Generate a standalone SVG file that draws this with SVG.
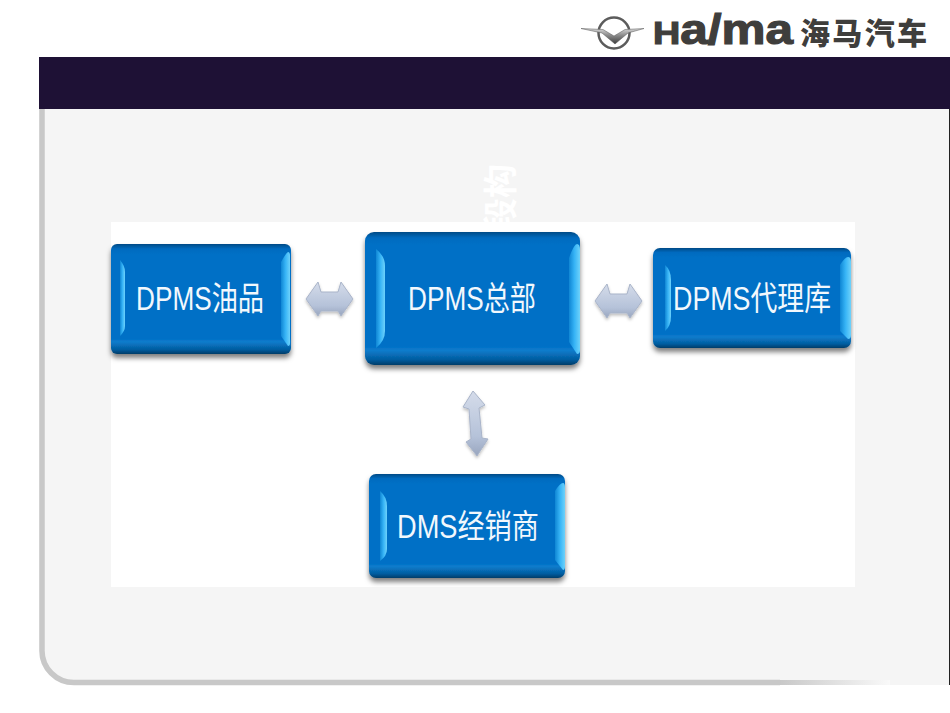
<svg xmlns="http://www.w3.org/2000/svg" width="950" height="713" viewBox="0 0 950 713">
<defs>
<style>
.t{font-family:"Liberation Sans","Noto Sans CJK SC",sans-serif;font-size:27px;fill:#f2f8fd;text-anchor:middle}
.e{fill:url(#eg)}
.l{fill:#4fb6f0}
.a{fill:url(#ag);stroke:#a9b4c9;stroke-width:1;stroke-linejoin:round;filter:url(#as)}
.n{stroke:#045290;stroke-width:1}
</style>
<linearGradient id="bg" x1="0" y1="0" x2="0" y2="1"><stop offset="0" stop-color="#044a86"/><stop offset=".045" stop-color="#056bbf"/><stop offset=".1" stop-color="#0470c6"/><stop offset=".86" stop-color="#0470c6"/><stop offset=".89" stop-color="#0a7ccc"/><stop offset=".96" stop-color="#045c9f"/><stop offset="1" stop-color="#043c68"/></linearGradient>
<linearGradient id="eg" x1="0" y1="0" x2="1" y2="0"><stop offset="0" stop-color="#0f86d4"/><stop offset=".5" stop-color="#37b4f6"/><stop offset="1" stop-color="#6ed2fb"/></linearGradient>
<linearGradient id="ag" x1="0" y1="0" x2="0" y2="1"><stop offset="0" stop-color="#d5dcea"/><stop offset=".7" stop-color="#b5c2d9"/><stop offset="1" stop-color="#98a5be"/></linearGradient>
<linearGradient id="lg" x1="0" y1="0" x2="0" y2="1"><stop offset="0" stop-color="#d8d8d8"/><stop offset=".45" stop-color="#8a8a8a"/><stop offset="1" stop-color="#3c3c3c"/></linearGradient>
<linearGradient id="fade" gradientUnits="userSpaceOnUse" x1="780" y1="0" x2="890" y2="0"><stop offset="0" stop-color="#c8c8c8"/><stop offset="1" stop-color="#f9f9f9"/></linearGradient>
<filter id="s" x="-10%" y="-10%" width="120%" height="125%"><feDropShadow dx="0" dy="4" stdDeviation="2.500" flood-color="#000" flood-opacity=".5"/></filter>
<filter id="as" x="-20%" y="-20%" width="140%" height="150%"><feDropShadow dx="0" dy="2" stdDeviation="1.500" flood-color="#000" flood-opacity=".25"/></filter>
</defs>
<rect width="950" height="713" fill="#fff"/>
<g id="frame">
<path d="M39 100V650A35 35 0 0 0 74 685H950V100Z" fill="#f5f5f5"/>
<path d="M42 100V650A32 32 0 0 1 42 650A32 32 0 0 0 74 682.500H780" fill="none" stroke="#c8c8c8" stroke-width="5.500"/>
<rect x="780" y="680" width="110" height="5" fill="url(#fade)"/>
<rect x="949" y="57" width="1" height="628" fill="#222"/>
<rect x="39" y="57" width="911" height="52" fill="#1e1135"/>
</g>
<g id="logo">
<circle cx="614" cy="33" r="15.500" fill="none" stroke="#5c5c5c" stroke-width="2.500"/>
<path d="M581 28.500L603 29.500L614 36L625 29.500L644 28.500L628 33L615 44L602 33Z" fill="url(#lg)" stroke="#555" stroke-width=".5"/>
<text x="653" y="44" font-family="'Liberation Sans',sans-serif" font-weight="700" font-size="32" fill="#3f3e3c" stroke="#3f3e3c" stroke-width="1.200" textLength="140" lengthAdjust="spacingAndGlyphs">H<tspan font-size="42">a/ma</tspan></text>
<text x="800" y="44" font-family="'Noto Sans CJK SC',sans-serif" font-weight="900" font-size="30" fill="#3f3e3c" textLength="127" lengthAdjust="spacing">海马汽车</text>
</g>
<text id="title" transform="translate(482 198) rotate(-90)" font-family="'Noto Sans CJK SC',sans-serif" font-weight="700" font-size="34" fill="#fff" text-anchor="middle" dominant-baseline="hanging">段构</text>
<rect id="panel" x="111" y="222" width="744" height="365" fill="#fff"/>
<g id="connectors">
<path class="a" d="M306 299L318 282L321 292H338L341 282L353 299L341 316L338 311H321L318 316Z"/>
<path class="a" d="M595 301L607 284L610 294H627L630 284L642 301L630 318L627 313H610L607 318Z"/>
<path class="a" d="M473 391L485 405L479 408L482 438L488 439L477 456L466 442L471 439L469 409L463 407Z"/>
</g>
<g id="oil">
<rect x="111" y="244" width="180" height="110" rx="6" fill="url(#bg)" filter="url(#s)"/>
<path class="e" d="M120 260Q125 266 125 272V326Q125 331 120 336Z"/><path class="e" d="M281 262Q286 253 288 252Q290 252 290 256V343Q290 346 288 346L281 336Z"/>
<g transform="translate(200 310) scale(1 1.220)"><text class="t" x="0" y="0" textLength="128" lengthAdjust="spacingAndGlyphs">DPMS油品</text></g>
</g>
<g id="hq">
<rect x="365" y="232" width="215" height="133" rx="9" fill="url(#bg)" filter="url(#s)"/>
<path class="e" d="M376 249Q385 256 385 266V331Q385 341 376 348Z"/><path class="e" d="M569 258Q574 244 577 244Q580 244 580 250V350Q580 354 577 354L569 342Z"/>
<g transform="translate(472 310) scale(1 1.220)"><text class="t" x="0" y="0" textLength="128" lengthAdjust="spacingAndGlyphs">DPMS总部</text></g>
</g>
<g id="agent">
<rect x="653" y="248" width="198" height="100" rx="7" fill="url(#bg)" filter="url(#s)"/>
<path class="e" d="M665 265Q671 270 671 280V316Q671 326 665 331Z"/><path class="e" d="M840 265Q845 257 848 257Q851 257 851 262V335Q851 339 848 339L840 331Z"/>
<g transform="translate(752 310) scale(1 1.220)"><text class="t" x="0" y="0" textLength="158" lengthAdjust="spacingAndGlyphs">DPMS代理库</text></g>
</g>
<g id="dealer">
<rect x="369" y="474" width="196" height="104" rx="7" fill="url(#bg)" filter="url(#s)"/>
<path class="e" d="M380 491Q387 497 387 506V549Q387 556 380 561Z"/><path class="e" d="M555 491Q560 483 563 483Q565 483 565 488V566Q565 570 563 570L555 560Z"/>
<g transform="translate(468 538) scale(1 1.220)"><text class="t" x="0" y="0" textLength="142" lengthAdjust="spacingAndGlyphs">DMS经销商</text></g>
</g>
</svg>
